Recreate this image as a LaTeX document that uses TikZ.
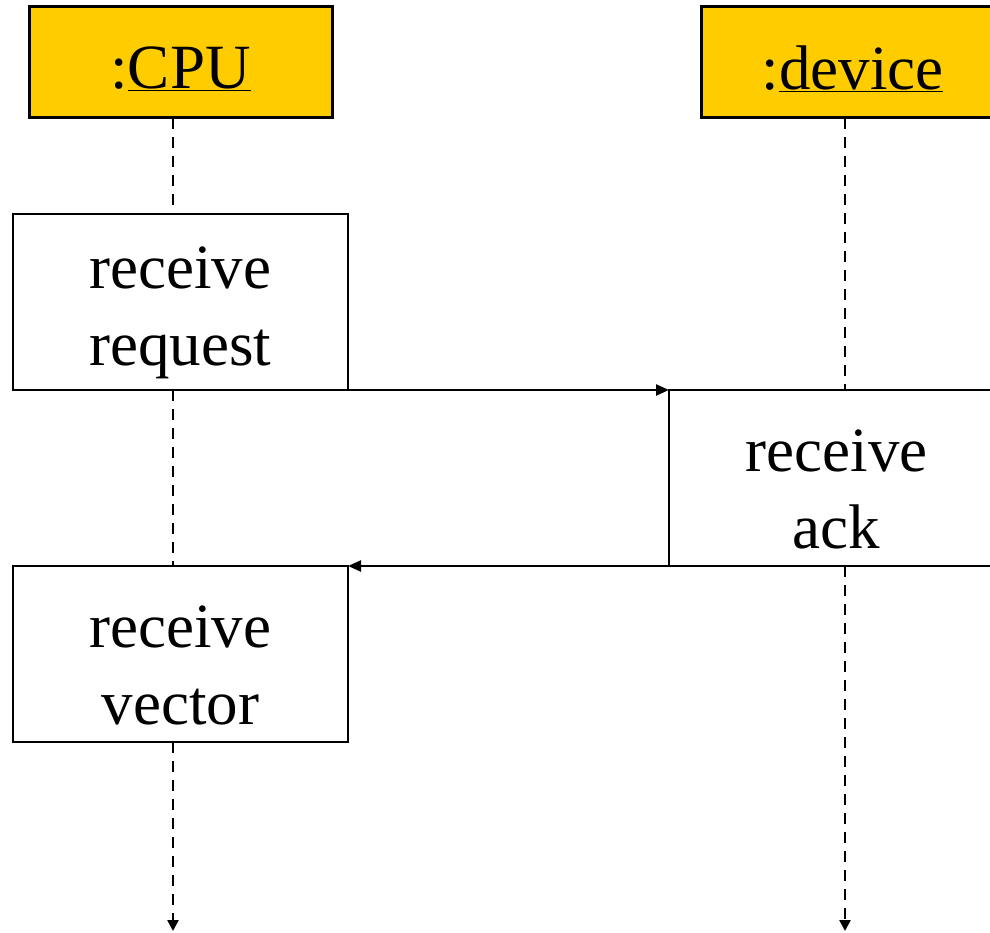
\documentclass[tikz,border=0pt]{standalone}
\usepackage{fontspec}
\setmainfont{Liberation Serif}
\usetikzlibrary{arrows.meta}
\definecolor{headyellow}{HTML}{FFCC00}
\begin{document}
\begin{tikzpicture}[x=1pt,y=-1pt,
  bigtext/.style={font=\fontsize{63}{77}\selectfont, align=center, inner sep=0pt},
  header/.style={draw, line width=3pt, fill=headyellow, minimum width=303pt,
    minimum height=111pt, inner sep=0pt, outer sep=0pt},
  activation/.style={draw, line width=2.4pt, fill=white, minimum width=335pt,
    minimum height=176pt, inner sep=0pt, outer sep=0pt},
  lifeline/.style={line width=2.4pt, dash pattern=on 11pt off 8pt},
  msg/.style={line width=2.4pt, -{Triangle[length=13pt,width=11pt]}}
]
\useasboundingbox (0,0) rectangle (990,933);
\clip (0,0) rectangle (990,933);

% object headers
\node[header] (cpu) at (180.5,62.5) {};
\node[header] (dev) at (852.5,62.5) {};
\node[bigtext, yshift=-6pt] (cputxt) at (cpu.center) {:\underline{CPU}};
\node[bigtext, yshift=-6pt] (devtxt) at (dev.center) {:\underline{device}};

% lifeline ends
\coordinate (cpuend) at (173,931);
\coordinate (devend) at (845,931);

% activation boxes
\node[activation] (req) at (180.5,302) {};
\node[activation] (ack) at (836.5,478) {};
\node[activation] (vec) at (180.5,654) {};
\node[bigtext, yshift=-11pt] (reqtxt) at (req.center) {receive\\request};
\node[bigtext, yshift=-11pt] (acktxt) at (ack.center) {receive\\ack};
\node[bigtext, yshift=-11pt] (vectxt) at (vec.center) {receive\\vector};

% lifelines
\draw[lifeline] (cpu.south -| cpuend) -- (req.north -| cpuend);
\draw[lifeline] (req.south -| cpuend) -- (vec.north -| cpuend);
\draw[lifeline, -{Triangle[length=11pt,width=11pt]}] (vec.south -| cpuend) -- (cpuend);
\draw[lifeline] (dev.south -| devend) -- (ack.north -| devend);
\draw[lifeline, -{Triangle[length=11pt,width=11pt]}] (ack.south -| devend) -- (devend);

% messages
\draw[msg] (req.south east) -- (ack.north west);
\draw[msg] (ack.south west) -- (vec.north east);
\end{tikzpicture}
\end{document}
